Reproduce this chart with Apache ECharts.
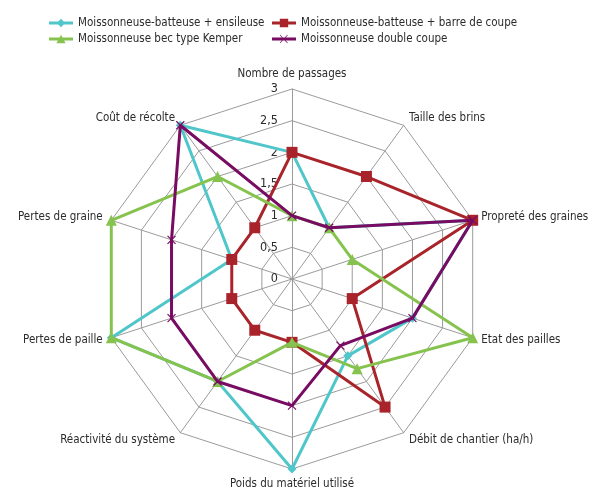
<!DOCTYPE html>
<html>
<head>
<meta charset="utf-8">
<script src="https://cdn.jsdelivr.net/npm/echarts@6/dist/echarts.min.js"></script>
<style>
  html, body { margin: 0; padding: 0; background: #fff; }
  #chart { width: 594px; height: 497px; }
</style>
</head>
<body>
<div id="chart"></div>
<script>
// Critères évalués (sens horaire, en partant du haut)
const criteria = [
  'Nombre de passages',
  'Taille des brins',
  'Propreté des graines',
  'Etat des pailles',
  'Débit de chantier (ha/h)',
  'Poids du matériel utilisé',
  'Réactivité du système',
  'Pertes de paille',
  'Pertes de graine',
  'Coût de récolte'
];

// Chantiers comparés
const machineNames = [
  'Moissonneuse-batteuse + ensileuse',
  'Moissonneuse-batteuse + barre de coupe',
  'Moissonneuse bec type Kemper',
  'Moissonneuse double coupe'
];

// Notes par critère (même ordre que criteria)
const ensileuse   = [2, 1, 3, 2, 1.5, 3, 2, 3, 1, 3];
const barreCoupe  = [2, 2, 3, 1, 2.5, 1, 1, 1, 1, 1];
const kemper      = [1, 1, 1, 3, 1.75, 1, 2, 3, 3, 2];
const doubleCoupe = [1, 1, 3, 2, 1.3, 2, 2, 2, 2, 3];

// Échelle radiale
const scaleMax = 3;
const scaleSteps = 6;

const FONT = '"Liberation Sans Narrow", "Arial Narrow", "DejaVu Sans Condensed", sans-serif';
const FONT_SIZE = 11.5;
const TEXT = '#2b2b2b';

const colors = ['#4fc6c9', '#a8242a', '#86c34e', '#780b62'];

// Icônes de légende : trait + marqueur
const LINE = 'M0,3.6L24,3.6L24,6.4L0,6.4Z';
const legendIcons = [
  'path://' + LINE + 'M12,0.8L16.2,5L12,9.2L7.8,5Z',
  'path://' + LINE + 'M7.8,0.8L16.2,0.8L16.2,9.2L7.8,9.2Z',
  'path://' + LINE + 'M12,0.8L16.6,9.2L7.4,9.2Z',
  'path://' + LINE + 'M15.3,0.8L15.8,1.3L8.7,8.7L8.2,9.2L7.8,8.8L14.9,1.3Z M8.2,0.8L15.8,8.7L15.3,9.2L7.8,1.3Z'
];

const crossSymbol = 'path://M0,0L10,10M10,0L0,10';
const symbols = ['diamond', 'rect', 'triangle', crossSymbol];
const symbolSizes = [9, 11, 11, 8];
const values = [ensileuse, barreCoupe, kemper, doubleCoupe];

// Le radar ECharts tourne dans le sens trigonométrique :
// on garde le premier critère en haut et on inverse les suivants
// pour que la lecture se fasse dans le sens horaire.
const order = [0].concat(criteria.slice(1).map((_, k) => criteria.length - 1 - k));

const chart = echarts.init(document.getElementById('chart'), null, { renderer: 'canvas' });

const indicator = order.map((idx, pos) => {
  const ind = { name: criteria[idx], min: 0, max: scaleMax };
  if (pos === 0) {
    // graduations affichées uniquement sur l'axe vertical
    ind.axisLabel = {
      show: true,
      showMinLabel: true,
      color: TEXT,
      fontSize: 12.5,
      fontFamily: FONT,
      margin: 14,
      formatter: v => String(v).replace('.', ',')
    };
  }
  return ind;
});

const legendItem = i => ({ name: machineNames[i], icon: legendIcons[i] });

const legendBase = {
  orient: 'vertical',
  top: 12,
  itemWidth: 24,
  itemHeight: 10,
  itemGap: 4,
  itemStyle: { borderWidth: 0 },
  textStyle: { color: TEXT, fontSize: FONT_SIZE, fontFamily: FONT },
  selectedMode: false
};

chart.setOption({
  animation: false,
  color: colors,
  legend: [
    Object.assign({}, legendBase, { left: 44, data: [legendItem(0), legendItem(2)] }),
    Object.assign({}, legendBase, { left: 267, data: [legendItem(1), legendItem(3)] })
  ],
  radar: {
    center: [292, 279],
    radius: 190,
    startAngle: 90,
    shape: 'polygon',
    splitNumber: scaleSteps,
    indicator: indicator,
    nameGap: 9,
    axisName: { color: TEXT, fontSize: FONT_SIZE, fontFamily: FONT },
    axisLine: { lineStyle: { color: '#9a9a9a', width: 1 } },
    splitLine: { lineStyle: { color: '#9a9a9a', width: 1 } },
    splitArea: { show: false },
    axisTick: { show: false },
    axisLabel: { show: false }
  },
  series: values.map((vals, i) => ({
    type: 'radar',
    name: machineNames[i],
    z: 2 + i,
    symbol: symbols[i],
    symbolSize: symbolSizes[i],
    lineStyle: { width: 3, color: colors[i] },
    itemStyle: i === 3
      ? { color: colors[i], borderColor: colors[i], borderWidth: 1.2 }
      : { color: colors[i] },
    data: [{ value: order.map(idx => vals[idx]), name: machineNames[i] }]
  }))
});
</script>
</body>
</html>
